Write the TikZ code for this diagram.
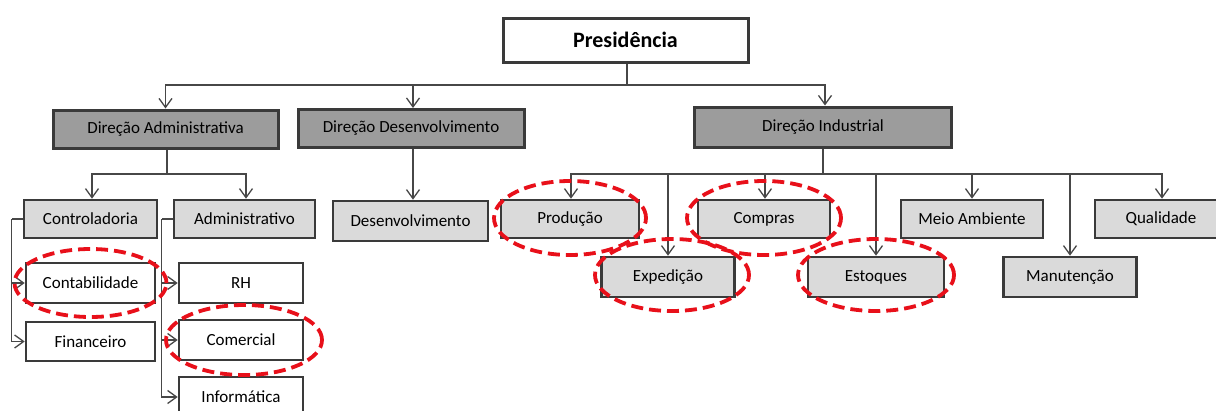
\documentclass[tikz,border=0pt]{standalone}
\usepackage{fontspec}
\setmainfont{Carlito}
\usetikzlibrary{arrows.meta,positioning}
\definecolor{dkfill}{HTML}{9C9C9C}
\definecolor{ltfill}{HTML}{DADADA}
\definecolor{bord}{HTML}{3A3A3A}
\definecolor{conncol}{HTML}{474747}
\definecolor{ovalred}{HTML}{E8101A}
\tikzset{
  box/.style={draw=bord, line width=2.6pt, inner sep=0pt, font=\fontsize{17}{20}\selectfont, text=black},
  dirbox/.style={box, fill=dkfill, line width=3pt},
  subbox/.style={box, fill=ltfill},
  whbox/.style={box, fill=white},
  conn/.style={draw=conncol, line width=1.5pt},
  arr/.style={conn, -{Straight Barb[length=9pt,width=13pt,line width=1.3pt]}},
  redov/.style={draw=ovalred, line width=3.8pt, dash pattern=on 12pt off 6pt},
}
\begin{document}
\begin{tikzpicture}[x=1pt,y=-1pt]
\clip (0,0) rectangle (1216,410);
\fill[white] (0,0) rectangle (1216,410);
% level 0
\node[box, fill=white, line width=3pt, minimum width=245pt, minimum height=44pt, font=\bfseries\fontsize{22}{25}\selectfont] (pres) at (625.5,40) {Presidência};
% level 1
\node[dirbox, minimum width=225pt, minimum height=38pt] (dadm) at (165.5,129) {Direção Administrativa};
\node[dirbox, minimum width=226pt, minimum height=38pt] (ddes) at (411,128.5) {Direção Desenvolvimento};
\node[dirbox, minimum width=257pt, minimum height=40pt] (dind) at (823,127) {Direção Industrial};
% level 2
\node[subbox, minimum width=133pt, minimum height=38pt] (ctrl) at (90.5,219) {Controladoria};
\node[subbox, minimum width=141pt, minimum height=38pt] (admv) at (244.5,219) {Administrativo};
\node[subbox, minimum width=155pt, minimum height=40pt] (desv) at (410.5,221) {Desenvolvimento};
\node[subbox, minimum width=138pt, minimum height=38pt] (prod) at (570,219) {Produção};
\node[subbox, minimum width=132pt, minimum height=38pt] (comp) at (764,219) {Compras};
\node[subbox, minimum width=142pt, minimum height=38pt] (meio) at (972,219) {Meio Ambiente};
\node[subbox, minimum width=132pt, minimum height=38pt] (qual) at (1161,219) {Qualidade};
\node[subbox, minimum width=133pt, minimum height=40pt] (expe) at (668,277) {Expedição};
\node[subbox, minimum width=136pt, minimum height=40pt] (esto) at (876,277) {Estoques};
\node[subbox, minimum width=133pt, minimum height=40pt] (manu) at (1070,277) {Manutenção};
% level 3
\node[whbox, minimum width=129pt, minimum height=40pt] (cont) at (90.5,283) {Contabilidade};
\node[whbox, minimum width=129pt, minimum height=39pt] (fina) at (90.5,341.5) {Financeiro};
\node[whbox, minimum width=124pt, minimum height=40pt] (rh) at (241,283) {RH};
\node[whbox, minimum width=124pt, minimum height=40pt] (come) at (241,340) {Comercial};
\node[whbox, minimum width=124pt, minimum height=40pt] (info) at (241,397) {Informática};
% connectors level 0 -> 1
\coordinate (tbus) at ([xshift=1.5pt]pres.south |- 0,85);
\draw[conn] ([xshift=1.5pt]pres.south) -- (tbus);
\draw[arr] (tbus) -| (dadm.north);
\draw[arr] (tbus) -| ([xshift=2pt]ddes.north);
\draw[arr] (tbus) -| ([xshift=2pt]dind.north);
% administrativa
\coordinate (abus) at ([xshift=1.5pt]dadm.south |- 0,174);
\draw[conn] ([xshift=1.5pt]dadm.south) -- (abus);
\draw[arr] (abus) -| ([xshift=1.5pt]ctrl.north);
\draw[arr] (abus) -| ([xshift=1.5pt]admv.north);
% desenvolvimento
\draw[arr] ([xshift=2pt]ddes.south) -- ([xshift=2.5pt]desv.north);
% industrial
\coordinate (ibus) at (dind.south |- 0,174);
\draw[conn] (dind.south) -- (ibus);
\draw[arr] (ibus) -| ([xshift=1pt]prod.north);
\draw[arr] (ibus) -| (expe.north);
\draw[arr] (ibus) -| ([xshift=1pt]comp.north);
\draw[arr] (ibus) -| (esto.north);
\draw[arr] (ibus) -| (meio.north);
\draw[arr] (ibus) -| (manu.north);
\draw[arr] (ibus) -| ([xshift=1pt]qual.north);
% brackets
\coordinate (cbus) at ([xshift=-11pt]ctrl.west);
\draw[conn] (ctrl.west) -- (cbus);
\draw[arr] (cbus) |- (cont.west);
\draw[arr] (cbus) |- (fina.west);
\coordinate (dbus) at ([xshift=-11pt]admv.west);
\draw[conn] (admv.west) -- (dbus);
\draw[arr] (dbus) |- (rh.west);
\draw[arr] (dbus) |- (come.west);
\draw[arr] (dbus) |- (info.west);
% red highlight ovals
\draw[redov] (cont.center) ellipse [x radius=76pt, y radius=34pt];
\draw[redov] ([xshift=3pt]come.center) ellipse [x radius=78pt, y radius=35pt];
\draw[redov] ([yshift=1pt]prod.center) ellipse [x radius=76pt, y radius=37pt];
\draw[redov] ([yshift=1pt]comp.center) ellipse [x radius=77pt, y radius=37pt];
\draw[redov] ([xshift=4pt,yshift=2pt]expe.center) ellipse [x radius=77pt, y radius=36pt];
\draw[redov] ([yshift=2pt]esto.center) ellipse [x radius=78pt, y radius=36pt];
\end{tikzpicture}
\end{document}
